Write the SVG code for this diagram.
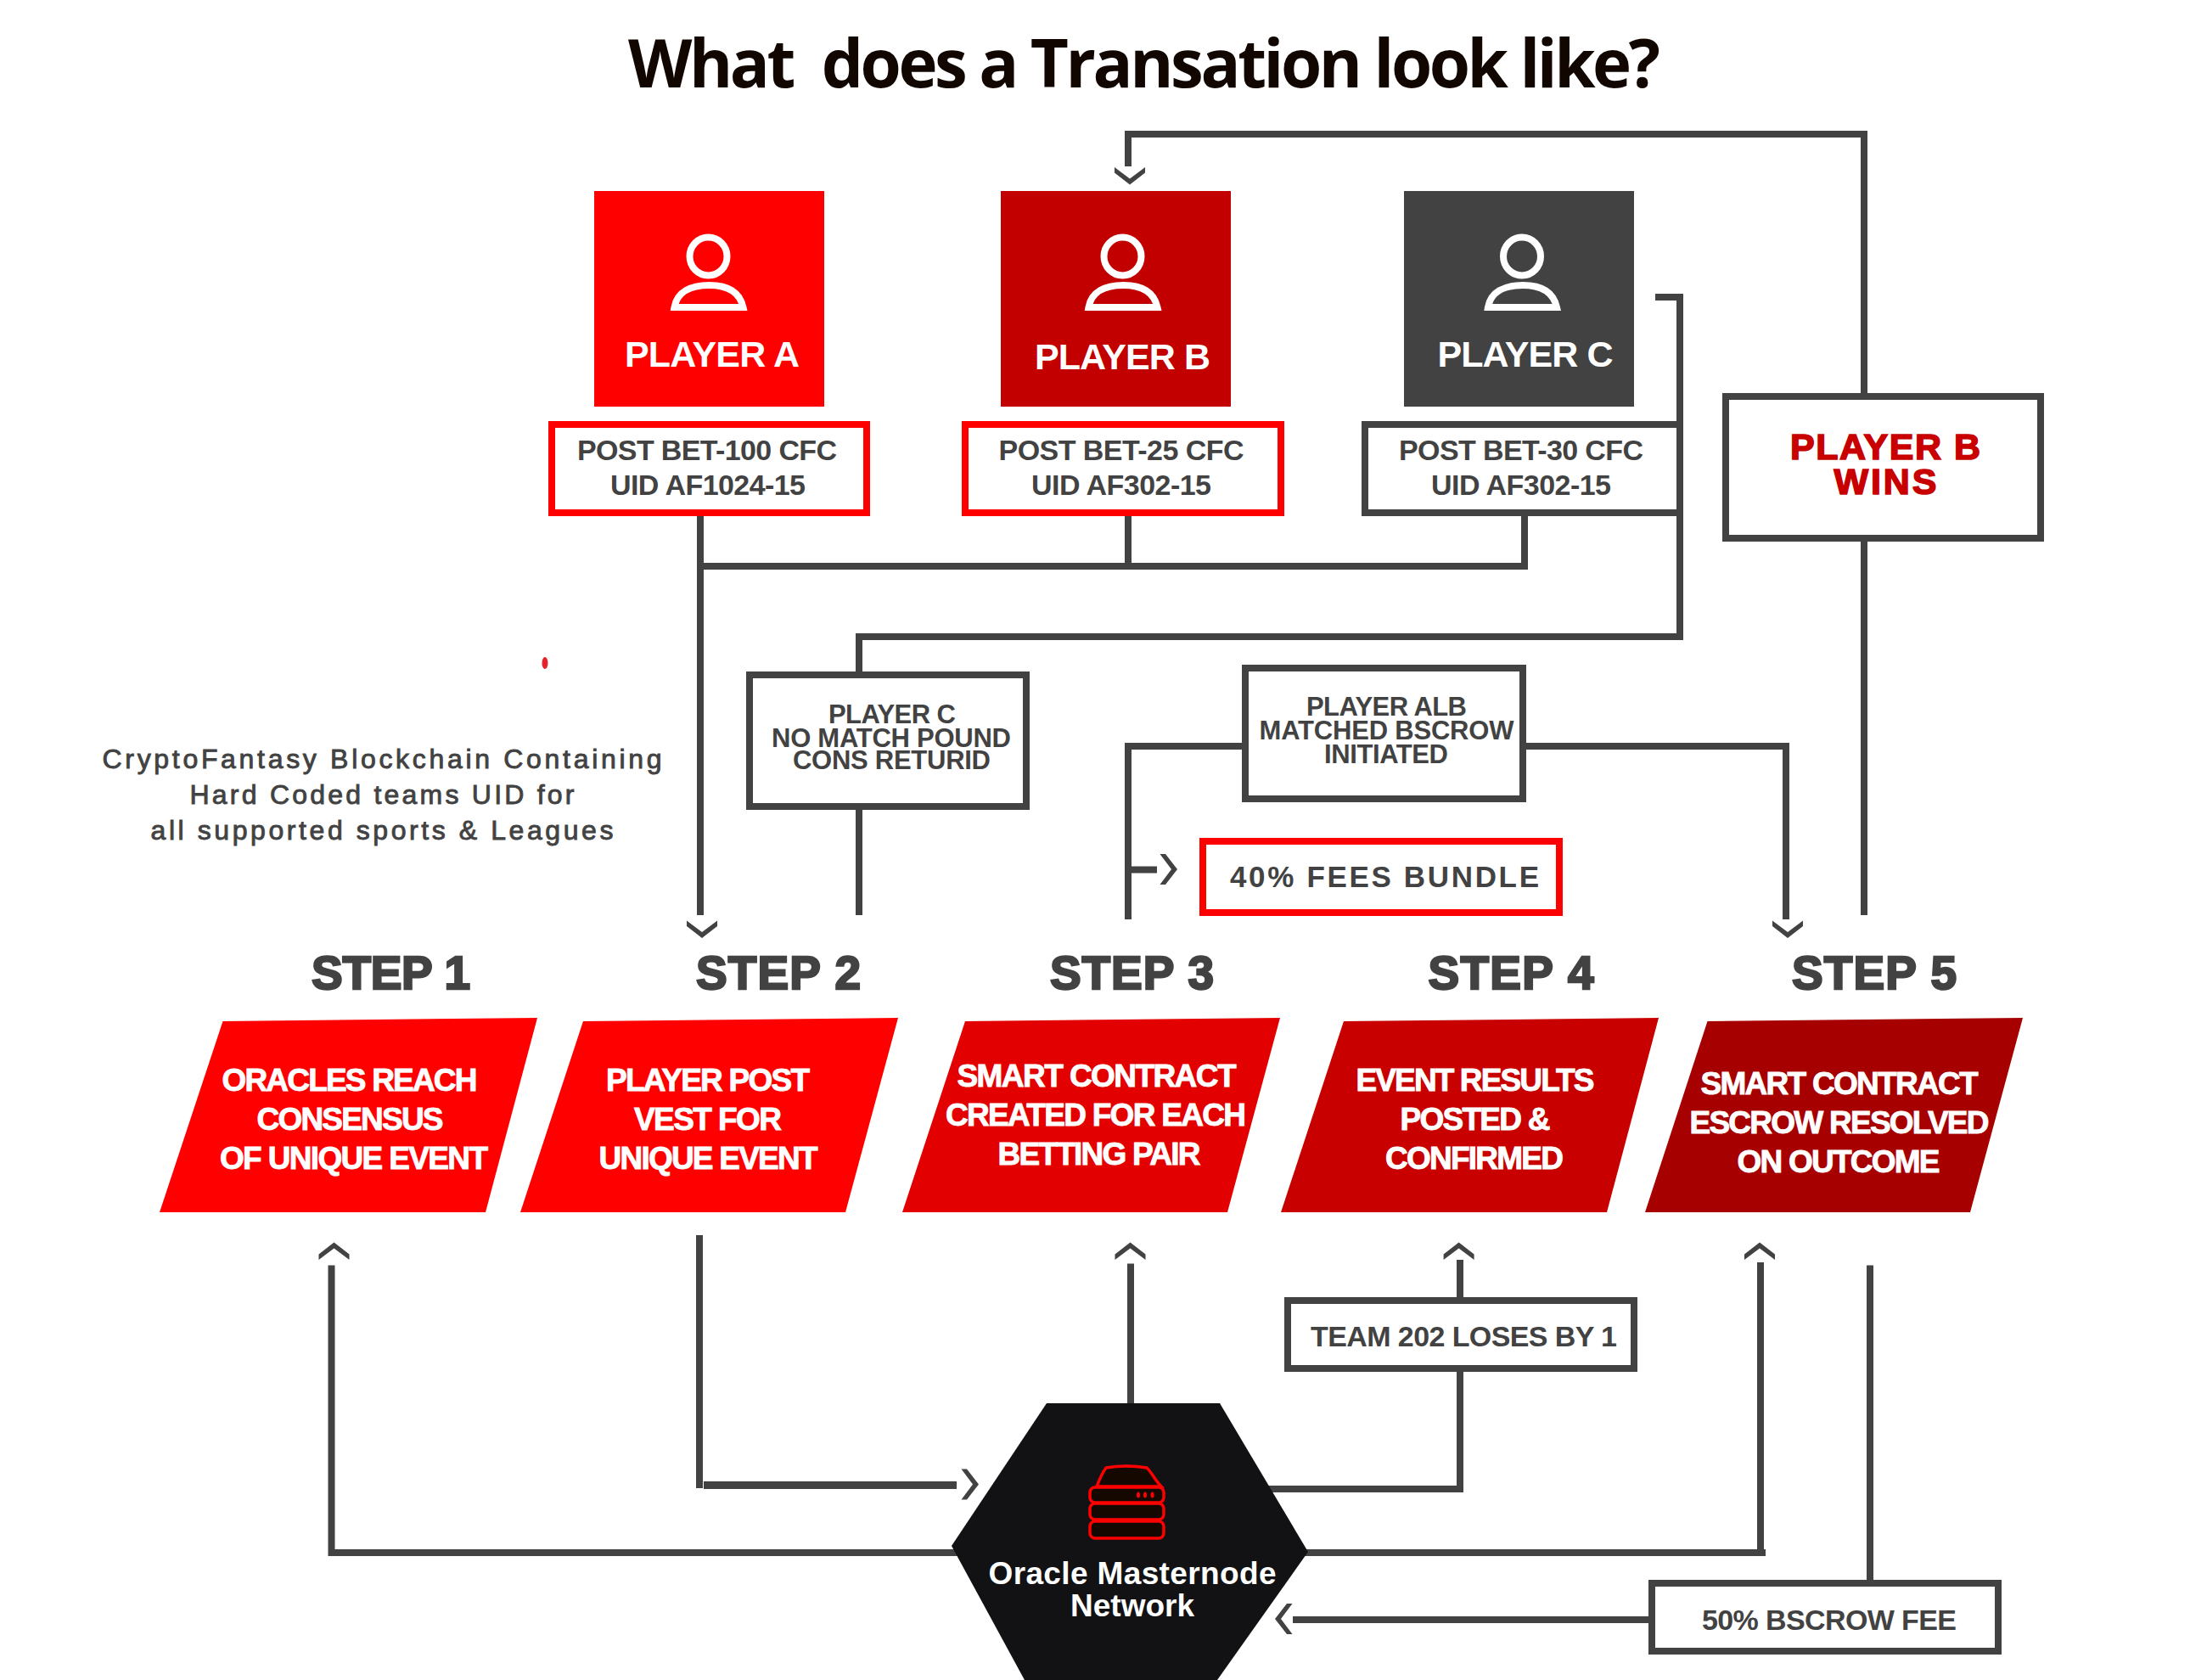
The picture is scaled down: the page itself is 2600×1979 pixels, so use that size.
<svg xmlns="http://www.w3.org/2000/svg" width="2600" height="1979" viewBox="0 0 2600 1979">
<style>
text{font-family:"Liberation Sans",Arial,sans-serif;font-weight:700;text-anchor:middle}
.title{font-family:"Open Sans","Liberation Sans",sans-serif;font-size:78px;fill:#110600;white-space:pre}
.line{fill:none;stroke:#424242;stroke-width:8;stroke-linejoin:miter}
.head{fill:#424242}
.box{fill:#fff;stroke:#424242;stroke-width:8}
.red{fill:#fff;stroke:#f00;stroke-width:8}
.lbl{font-size:34px;fill:#424242}
.tight{font-size:31px;fill:#424242}
.pname{font-size:43px;fill:#fff}
.win{font-size:43px;fill:#c80000;stroke:#c80000;stroke-width:1.6}
.step{font-size:55px;fill:#424242;stroke:#424242;stroke-width:2.4}
.ptext{font-size:37px;fill:#fff;stroke:#fff;stroke-width:.9}
.note{font-size:32px;font-weight:400;fill:#424242;stroke:#424242;stroke-width:.9}
.srv{fill:#150800;stroke:#f00;stroke-width:3.5}
</style>
<defs>
<g id="person" fill="none" stroke="#fff" stroke-width="8">
<ellipse cx="0" cy="26" rx="22" ry="22.5"/>
<path d="M-40 86C-37 68-21 60 1 60C23 60 37 68 41 86Z"/>
</g>
<polygon id="chev" class="head" points="0,0 -18,-14 -18,-20.5 0,-7 18,-20.5 18,-14"/>
</defs>
<rect width="2600" height="1979" fill="#fff"/>
<text class="title" x="1348" y="103" textLength="1216" lengthAdjust="spacing">What  does a Transation look like?</text>
<ellipse cx="642" cy="781" rx="3.5" ry="7" fill="#e8202a"/>

<g id="connectors">
<path class="line" d="M825 608V1078"/>
<path class="line" d="M821 667H1796V608M1329 608V667"/>
<path class="line" d="M2196 463V158H1329V196"/>
<path class="line" d="M2196 637V1078"/>
<path class="line" d="M1950 350H1979V750H1012V795M1012 950V1078"/>
<path class="line" d="M1467 879H1329V1083M1329 1024.5H1363"/>
<path class="line" d="M1793 879H2104V1083"/>
<path class="line" d="M1140 1829H390.500V1490.500"/>
<path class="line" d="M824 1455V1753"/>
<path class="line" d="M829 1749.500H1127" style="stroke-width:9"/>
<path class="line" d="M1332 1660V1488.600"/>
<path class="line" d="M1480 1754H1720V1613M1720 1533V1484"/>
<path class="line" d="M1530 1829H2080M2074 1833V1487"/>
<path class="line" d="M2203 1866V1490.500"/>
<path class="line" d="M1946 1908H1523"/>
<use href="#chev" transform="translate(1331 217.500)"/>
<use href="#chev" transform="translate(827 1105)"/>
<use href="#chev" transform="translate(2106 1105)"/>
<use href="#chev" transform="translate(1387 1024) rotate(-90)"/>
<use href="#chev" transform="translate(1153 1748.500) rotate(-90)"/>
<use href="#chev" transform="translate(1502 1907) rotate(90)"/>
<use href="#chev" transform="translate(393.500 1463.500) rotate(180)"/>
<use href="#chev" transform="translate(1331.500 1463.500) rotate(180)"/>
<use href="#chev" transform="translate(1718.600 1463.500) rotate(180)"/>
<use href="#chev" transform="translate(2073 1463.500) rotate(180)"/>
</g>

<g id="player-a">
<rect x="700" y="225" width="271" height="254" fill="#f00"/>
<use href="#person" transform="translate(834.500 276)"/>
<text class="pname" x="839" y="432" textLength="206">PLAYER A</text>
</g>
<g id="player-b">
<rect x="1179" y="225" width="271" height="254" fill="#c20000"/>
<use href="#person" transform="translate(1322.500 276)"/>
<text class="pname" x="1322.500" y="435" textLength="207">PLAYER B</text>
</g>
<g id="player-c">
<rect x="1654" y="225" width="271" height="254" fill="#424242"/>
<use href="#person" transform="translate(1793 276)"/>
<text class="pname" x="1797" y="432" textLength="207">PLAYER C</text>
</g>

<g id="bet-a">
<rect class="red" x="650" y="500" width="371" height="104"/>
<text class="lbl" x="833" y="541.500" textLength="306">POST BET-100 CFC</text>
<text class="lbl" x="834" y="583" textLength="230">UID AF1024-15</text>
</g>
<g id="bet-b">
<rect class="red" x="1137" y="500" width="372" height="104"/>
<text class="lbl" x="1321" y="541.500" textLength="289">POST BET-25 CFC</text>
<text class="lbl" x="1321" y="583" textLength="212">UID AF302-15</text>
</g>
<g id="bet-c">
<rect class="box" x="1608" y="500" width="371" height="104"/>
<text class="lbl" x="1792" y="541.500" textLength="288">POST BET-30 CFC</text>
<text class="lbl" x="1792" y="583" textLength="212">UID AF302-15</text>
</g>
<g id="player-b-wins">
<rect class="box" x="2033" y="467" width="371" height="167"/>
<text class="win" x="2221" y="541" textLength="224">PLAYER B</text>
<text class="win" x="2221" y="582" textLength="121">WINS</text>
</g>

<g id="note">
<text class="note" x="450" y="905" textLength="659">CryptoFantasy Blockchain Containing</text>
<text class="note" x="450" y="947" textLength="453">Hard Coded teams UID for</text>
<text class="note" x="450" y="989" textLength="545">all supported sports &amp; Leagues</text>
</g>

<g id="no-match">
<rect class="box" x="883" y="795" width="326" height="155"/>
<text class="tight"><tspan x="1051" y="852" textLength="150">PLAYER C</tspan><tspan x="1050" y="880" textLength="282">NO MATCH POUND</tspan><tspan x="1050.500" y="906" textLength="233">CONS RETURID</tspan></text>
</g>
<g id="matched">
<rect class="box" x="1467" y="787" width="327" height="154"/>
<text class="tight"><tspan x="1633.500" y="843" textLength="189">PLAYER ALB</tspan><tspan x="1633.500" y="871" textLength="300">MATCHED BSCROW</tspan><tspan x="1633" y="899" textLength="146">INITIATED</tspan></text>
</g>
<g id="fees">
<rect class="red" x="1417" y="991" width="420" height="84"/>
<text class="lbl" style="font-size:35px" x="1631" y="1045" textLength="364">40% FEES BUNDLE</text>
</g>

<g id="step-1">
<text class="step" x="460.500" y="1165" textLength="187">STEP 1</text>
<polygon points="262.500,1203 633,1199 572,1428 188,1428" fill="#f00"/>
<text class="ptext" x="412" y="1285" textLength="301">ORACLES REACH</text>
<text class="ptext" x="412.500" y="1331" textLength="220">CONSENSUS</text>
<text class="ptext" x="417" y="1377" textLength="316">OF UNIQUE EVENT</text>
</g>
<g id="step-2">
<text class="step" x="917" y="1165" textLength="194">STEP 2</text>
<polygon points="687,1203 1058,1199 996,1428 613,1428" fill="#f00"/>
<text class="ptext" x="834" y="1285" textLength="240">PLAYER POST</text>
<text class="ptext" x="834" y="1331" textLength="174">VEST FOR</text>
<text class="ptext" x="834.500" y="1377" textLength="258">UNIQUE EVENT</text>
</g>
<g id="step-3">
<text class="step" x="1333.500" y="1165" textLength="193">STEP 3</text>
<polygon points="1137,1203 1508,1199 1446,1428 1063,1428" fill="#e30000"/>
<text class="ptext" x="1292" y="1280" textLength="329">SMART CONTRACT</text>
<text class="ptext" x="1291" y="1326" textLength="354">CREATED FOR EACH</text>
<text class="ptext" x="1295" y="1372" textLength="239">BETTING PAIR</text>
</g>
<g id="step-4">
<text class="step" x="1780" y="1165" textLength="195">STEP 4</text>
<polygon points="1583,1203 1954,1199 1893,1428 1509,1428" fill="#c80000"/>
<text class="ptext" x="1738" y="1285" textLength="281">EVENT RESULTS</text>
<text class="ptext" x="1738" y="1331" textLength="177">POSTED &amp;</text>
<text class="ptext" x="1737" y="1377" textLength="210">CONFIRMED</text>
</g>
<g id="step-5">
<text class="step" x="2208" y="1165" textLength="194">STEP 5</text>
<polygon points="2011.500,1203 2383,1199 2321,1428 1938,1428" fill="#a60000"/>
<text class="ptext" x="2167" y="1289" textLength="327">SMART CONTRACT</text>
<text class="ptext" x="2167" y="1335" textLength="353">ESCROW RESOLVED</text>
<text class="ptext" x="2166" y="1381" textLength="239">ON OUTCOME</text>
</g>

<g id="team-loses">
<rect class="box" x="1517" y="1532" width="408" height="80"/>
<text class="lbl" x="1724.500" y="1586" textLength="361">TEAM 202 LOSES BY 1</text>
</g>
<g id="bscrow-fee">
<rect class="box" x="1946" y="1865" width="408" height="80"/>
<text class="lbl" x="2155" y="1919.500" textLength="300">50% BSCROW FEE</text>
</g>

<g id="oracle">
<polygon points="1233,1653 1437,1653 1541,1828 1434,1979 1207,1979 1121,1821" fill="#121214"/>
<path class="srv" d="M1292 1751C1297 1738 1300 1733 1303 1729Q1327 1725 1351 1729C1356 1733 1360 1743 1368 1751Z"/>
<rect class="srv" x="1284" y="1752" width="87" height="18" rx="6"/>
<rect class="srv" x="1284" y="1771" width="87" height="19" rx="6"/>
<rect class="srv" x="1284" y="1792" width="87" height="20" rx="6"/>
<g fill="#f00"><ellipse cx="1341" cy="1761" rx="2" ry="3.500"/><ellipse cx="1349" cy="1761" rx="2" ry="3.500"/><ellipse cx="1357.500" cy="1761" rx="2" ry="3.500"/></g>
<text x="1334" y="1866" font-size="37" fill="#fff" textLength="339">Oracle Masternode</text>
<text x="1334" y="1904" font-size="37" fill="#fff" textLength="146">Network</text>
</g>
</svg>
